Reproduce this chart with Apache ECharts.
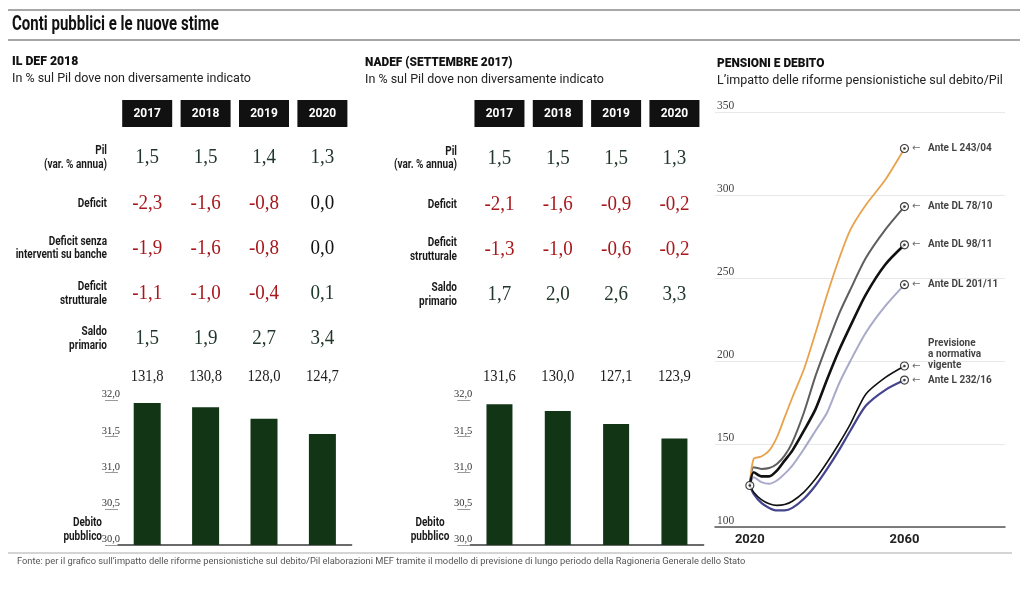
<!DOCTYPE html>
<html><head><meta charset="utf-8">
<script src="https://cdn.jsdelivr.net/npm/echarts@6/dist/echarts.min.js"></script>
<style>html,body{margin:0;padding:0;background:#fff}#c{width:1024px;height:593px}</style>
</head><body><div id="c"></div>
<script>
// ---------- DATA ----------
const years = ['2017', '2018', '2019', '2020'];

// Panel 1: IL DEF 2018
const defRowLabels = ['Pil\n(var. % annua)', 'Deficit', 'Deficit senza\ninterventi su banche', 'Deficit\nstrutturale', 'Saldo\nprimario'];
const defPil = [1.5, 1.5, 1.4, 1.3];
const defDeficit = [-2.3, -1.6, -0.8, 0.0];
const defDeficitSenzaBanche = [-1.9, -1.6, -0.8, 0.0];
const defDeficitStrutturale = [-1.1, -1.0, -0.4, 0.1];
const defSaldoPrimario = [1.5, 1.9, 2.7, 3.4];
const defDebito = [131.8, 130.8, 128.0, 124.7];
const defDebitoBars = [31.96, 31.90, 31.74, 31.53];

// Panel 2: NADEF (settembre 2017)
const nadefRowLabels = ['Pil\n(var. % annua)', 'Deficit', 'Deficit\nstrutturale', 'Saldo\nprimario'];
const nadefPil = [1.5, 1.5, 1.5, 1.3];
const nadefDeficit = [-2.1, -1.6, -0.9, -0.2];
const nadefDeficitStrutturale = [-1.3, -1.0, -0.6, -0.2];
const nadefSaldoPrimario = [1.7, 2.0, 2.6, 3.3];
const nadefDebito = [131.6, 130.0, 127.1, 123.9];
const nadefDebitoBars = [31.94, 31.85, 31.67, 31.47];

const barAxisTicks = [30.0, 30.5, 31.0, 31.5, 32.0];

// Panel 3: Pensioni e debito
const lineYears = [2020, 2021, 2023, 2025, 2027, 2029, 2031, 2034, 2037, 2040, 2043, 2046, 2050, 2055, 2060];
const anteL24304 = [125, 141, 142.5, 146, 154, 166, 178, 195, 217, 240, 261, 279, 294, 309, 328];
const anteDL7810 = [125, 136, 135, 135.5, 138, 143, 151, 169, 191, 210, 228, 243, 262, 279, 293];
const anteDL9811 = [125, 133, 130.5, 130.5, 134, 140, 146, 158, 171, 189, 206, 221, 240, 258, 270];
const anteDL20111 = [125, 130, 127, 126, 128, 132, 137, 147, 158, 169, 186, 200, 217, 233, 246];
const previsioneVigente = [125, 121, 116.5, 114, 113, 113.5, 115.5, 121, 129, 139, 150, 162, 180, 190, 197];
const anteL23216 = [125, 120, 114.5, 111.5, 110, 110, 111.5, 117, 125, 135, 146, 158, 173, 182.5, 188.5];
const lineXTicks = [2020, 2060];

// ---------- STYLE ----------
const COND = 'Roboto, "Noto Sans", sans-serif';
const SERIF = '"Liberation Serif", "DejaVu Serif", serif';
const fmt = v => v.toFixed(1).replace('.', ',');
const valColor = v => v < 0 ? '#a8171b' : (v === 0 ? '#111' : '#22372c');

const lineDefs = [
  { name: 'Ante DL 201/11', data: anteDL20111, color: '#a9a9c9', width: 2 },
  { name: 'Ante DL 78/10', data: anteDL7810, color: '#5e5e5e', width: 2 },
  { name: 'Ante L 243/04', data: anteL24304, color: '#e9a24c', width: 1.8 },
  { name: 'Ante DL 98/11', data: anteDL9811, color: '#111', width: 2.6 },
  { name: 'Ante L 232/16', data: anteL23216, color: '#45458f', width: 2.2 },
  { name: 'Previsione\na normativa\nvigente', data: previsioneVigente, color: '#111', width: 1.6 }
];

const chart = echarts.init(document.getElementById('c'), null, { renderer: 'canvas' });

function barYAxis(gi) {
  return {
    gridIndex: gi, type: 'value', min: barAxisTicks[0], max: barAxisTicks[barAxisTicks.length - 1], interval: 0.5,
    splitLine: { show: false }, axisLine: { show: false },
    axisTick: { show: true, length: 13, lineStyle: { color: '#9a9a9a' } },
    axisLabel: { formatter: v => fmt(v), margin: -2, verticalAlign: 'bottom', fontFamily: SERIF, fontSize: 10.5, color: '#333' }
  };
}
function barXAxis(gi) {
  return {
    gridIndex: gi, type: 'category', data: years,
    axisTick: { show: false }, axisLabel: { show: false },
    axisLine: { lineStyle: { color: '#3a3a3a', width: 1.5 } }
  };
}

const series = [
  { type: 'bar', xAxisIndex: 0, yAxisIndex: 0, data: defDebitoBars, barWidth: 27, itemStyle: { color: '#123516' }, silent: true },
  { type: 'bar', xAxisIndex: 1, yAxisIndex: 1, data: nadefDebitoBars, barWidth: 26, itemStyle: { color: '#123516' }, silent: true }
];
lineDefs.forEach(d => {
  series.push({
    type: 'line', xAxisIndex: 2, yAxisIndex: 2, name: d.name, symbol: 'none', smooth: 0.25,
    data: lineYears.map((y, i) => [y, d.data[i]]),
    lineStyle: { color: d.color, width: d.width }, silent: true
  });
});
const lastIdx = lineYears.length - 1;
const endPoints = lineDefs.map(d => ({ name: d.name, value: [lineYears[lastIdx], d.data[lastIdx]] }));
const startPoint = [{ name: '', value: [lineYears[0], previsioneVigente[0]] }];
series.push({
  type: 'scatter', xAxisIndex: 2, yAxisIndex: 2, z: 5, symbol: 'circle', symbolSize: 8,
  itemStyle: { color: '#fff', borderColor: '#111', borderWidth: 1.2 },
  data: endPoints.concat(startPoint), silent: true,
  label: {
    show: true, position: 'right', distance: 3,
    formatter: p => {
      if (!p.name) return '';
      const lines = p.name.split('\n');
      return lines.map((l, i) => (i === lines.length - 1 ? '{arr|←}' : '{g|\u00a0}') + '{t|' + l + '}').join('\n');
    },
    rich: {
      arr: { fontFamily: 'DejaVu Sans', fontSize: 10, color: '#444', width: 16 },
      g: { fontSize: 10, width: 16 },
      t: { fontFamily: COND, fontWeight: 'bold', fontSize: 10, color: '#111', lineHeight: 11 }
    }
  },
  labelLayout: p => {
    const n = endPoints[p.dataIndex] ? endPoints[p.dataIndex].name.split('\n').length : 1;
    return { dy: -(n - 1) * 11 / 2 };
  }
});
series.push({
  type: 'scatter', xAxisIndex: 2, yAxisIndex: 2, z: 6, symbol: 'circle', symbolSize: 2.6,
  itemStyle: { color: '#111' }, data: endPoints.concat(startPoint), silent: true
});

chart.setOption({
  animation: false,
  backgroundColor: '#fff',
  grid: [
    { left: 118, top: 400, width: 233.6, height: 145 },
    { left: 470.3, top: 400, width: 233.3, height: 145 },
    { left: 715, top: 112, width: 290, height: 415 }
  ],
  xAxis: [
    barXAxis(0), barXAxis(1),
    {
      gridIndex: 2, type: 'value', min: 2011, max: 2086,
      splitLine: { show: false }, axisTick: { show: false },
      axisLine: { lineStyle: { color: '#555', width: 1.5 } },
      axisLabel: { customValues: lineXTicks, formatter: v => String(v), margin: 6, fontFamily: COND, fontWeight: 'bold', fontSize: 13, color: '#222' }
    }
  ],
  yAxis: [
    barYAxis(0), barYAxis(1),
    {
      gridIndex: 2, type: 'value', min: 100, max: 350, interval: 50,
      axisLine: { show: false }, axisTick: { show: false },
      splitLine: { lineStyle: { color: '#e8e8e8', width: 1 } },
      axisLabel: { inside: true, margin: 2, verticalAlign: 'bottom', fontFamily: SERIF, fontSize: 11.5, color: '#444' }
    }
  ],
  series: series
});

// ---------- TABLES & TEXT ----------
const G = [];
function txt(x, y, text, o, sx) {
  G.push({ type: 'text', silent: true, x: x, y: y, scaleX: sx || 1,
    style: Object.assign({ text: text, align: 'left', verticalAlign: 'middle', fontFamily: COND, fontSize: 12, fill: '#1a1a1a' }, o || {}) });
}
function hline(x1, x2, y, color, w) {
  G.push({ type: 'line', silent: true, shape: { x1: x1, y1: y, x2: x2, y2: y }, style: { stroke: color, lineWidth: w } });
}

hline(8, 1020, 10, '#8a8a8a', 1.5);
hline(8, 1020, 40, '#8a8a8a', 1.5);
hline(8, 1012, 553, '#aaaaaa', 1);
txt(12, 25, 'Conti pubblici e le nuove stime', { fontSize: 19.5, fontWeight: 'bold', fill: '#111' }, 0.77);

txt(12, 62, 'IL DEF 2018', { fontSize: 12.5, fontWeight: 900, fill: '#111' }, 0.98);
txt(12, 79, 'In % sul Pil dove non diversamente indicato', { fontSize: 12.5, fill: '#222' });
txt(365, 63, 'NADEF (SETTEMBRE 2017)', { fontSize: 12.5, fontWeight: 900, fill: '#111' }, 0.95);
txt(365, 80, 'In % sul Pil dove non diversamente indicato', { fontSize: 12.5, fill: '#222' });
txt(717, 64, 'PENSIONI E DEBITO', { fontSize: 12.5, fontWeight: 900, fill: '#111' }, 0.95);
txt(717, 80.5, 'L’impatto delle riforme pensionistiche sul debito/Pil', { fontSize: 12.5, fill: '#222' });
txt(17, 562, 'Fonte: per il grafico sull’impatto delle riforme pensionistiche sul debito/Pil elaborazioni MEF tramite il modello di previsione di lungo periodo della Ragioneria Generale dello Stato', { fontSize: 9.3, fill: '#555' });

function table(axisIdx, labels, rowsData, rowYs, labelRight, debt, debitoLabel) {
  const cx = years.map(y => chart.convertToPixel({ xAxisIndex: axisIdx }, y));
  cx.forEach((x, i) => {
    G.push({ type: 'rect', silent: true, shape: { x: x - 25, y: 100, width: 50, height: 27 }, style: { fill: '#111' } });
    txt(x, 113.5, years[i], { align: 'center', fontWeight: 'bold', fontSize: 12, fill: '#fff' });
  });
  rowsData.forEach((vals, r) => {
    txt(labelRight, rowYs[r], labels[r], { align: 'right', fontWeight: 'bold', fontSize: 12.5, lineHeight: 13.5 }, 0.8);
    vals.forEach((v, i) => txt(cx[i], rowYs[r], fmt(v), { align: 'center', fontFamily: SERIF, fontSize: 20, fill: valColor(v) }, 0.95));
  });
  debt.forEach((v, i) => txt(cx[i], 377, fmt(v), { align: 'center', fontFamily: SERIF, fontSize: 17, fill: '#1d1d1d' }, 0.86));
  txt(debitoLabel.x, 530, 'Debito\npubblico', { align: debitoLabel.align, fontWeight: 'bold', fontSize: 12.5, lineHeight: 13.5 }, 0.8);
}

table(0, defRowLabels, [defPil, defDeficit, defDeficitSenzaBanche, defDeficitStrutturale, defSaldoPrimario],
  [158, 203.5, 248.5, 294, 339], 107, defDebito, { x: 102, align: 'right' });
table(1, nadefRowLabels, [nadefPil, nadefDeficit, nadefDeficitStrutturale, nadefSaldoPrimario],
  [158.5, 204.5, 250, 295], 457, nadefDebito, { x: 430, align: 'center' });

chart.setOption({ graphic: G });
</script></body></html>
